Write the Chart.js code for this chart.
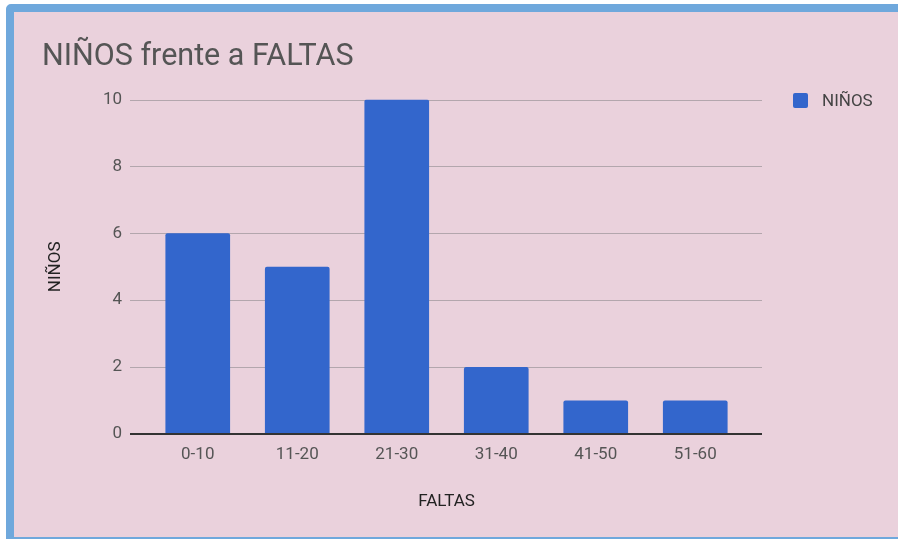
<!DOCTYPE html>
<html>
<head>
<meta charset="utf-8">
<script src="https://cdn.jsdelivr.net/npm/chart.js@4.4.0/dist/chart.umd.min.js"></script>
<style>
    html, body { margin: 0; padding: 0; background: #fff; overflow: hidden; }
    #frame {
        position: absolute; left: 6px; top: 4px;
        width: 900px; height: 525px;
        background: #ead1dc;
        border: 8px solid #6fa8dc;
        border-radius: 5px;
    }
    #wrap { position: absolute; left: 0; top: 0; width: 884px; height: 525px; }
    #legend { position: absolute; left: 779px; top: 78px; margin: 0; padding: 0; list-style: none; }
    #legend li { display: flex; align-items: center; height: 20px; font: 17px Roboto, sans-serif; color: #444; }
    #legend .box { width: 15px; height: 15px; border-radius: 2px; margin-right: 14px; }
</style>
</head>
<body>
<div id="frame">
    <div id="wrap"><canvas id="chart"></canvas></div>
    <ul id="legend"></ul>
</div>
<script>
// Data
const categories = ['0-10', '11-20', '21-30', '31-40', '41-50', '51-60'];
const ninos = [6, 5, 10, 2, 1, 1];
const yTicks = [0, 2, 4, 6, 8, 10];

const BAR = '#3366cc';
const TEXT = '#555555';
const AXIS_TEXT = '#222222';
const FONT = { family: 'Roboto', size: 17 };

// horizontal grid lines run a bit past the plot area, like the original
const gridPlugin = {
    id: 'wideGrid',
    beforeDatasetsDraw(chart) {
        const { ctx, chartArea, scales } = chart;
        ctx.save();
        yTicks.forEach(v => {
            const y = Math.round(scales.y.getPixelForValue(v)) + 0.5;
            ctx.beginPath();
            ctx.strokeStyle = '#b3a6ad';
            ctx.lineWidth = 1;
            ctx.moveTo(chartArea.left - 18, y);
            ctx.lineTo(chartArea.right + 17, y);
            ctx.stroke();
        });
        ctx.restore();
    },
    afterDatasetsDraw(chart) {
        const { ctx, chartArea, scales } = chart;
        const y = scales.y.getPixelForValue(0);
        ctx.save();
        ctx.beginPath();
        ctx.strokeStyle = '#333333';
        ctx.lineWidth = 2;
        ctx.moveTo(chartArea.left - 18, y);
        ctx.lineTo(chartArea.right + 17, y);
        ctx.stroke();
        ctx.restore();
    }
};

// legend built from the chart's own legend items
const htmlLegend = {
    id: 'htmlLegend',
    afterUpdate(chart) {
        const ul = document.getElementById('legend');
        ul.innerHTML = '';
        const items = chart.options.plugins.legend.labels.generateLabels(chart);
        items.forEach(item => {
            const li = document.createElement('li');
            const box = document.createElement('span');
            box.className = 'box';
            box.style.background = item.fillStyle;
            const txt = document.createElement('span');
            txt.textContent = item.text;
            li.appendChild(box);
            li.appendChild(txt);
            ul.appendChild(li);
        });
    }
};

new Chart(document.getElementById('chart'), {
    type: 'bar',
    data: {
        labels: categories,
        datasets: [{
            label: 'NIÑOS',
            data: ninos,
            backgroundColor: BAR,
            borderRadius: 2,
            borderSkipped: 'bottom',
            barPercentage: 0.65,
            categoryPercentage: 1
        }]
    },
    options: {
        responsive: true,
        maintainAspectRatio: false,
        animation: false,
        layout: { padding: { left: 28, right: 153, top: 16, bottom: 0 } },
        plugins: {
            title: {
                display: true,
                text: 'NIÑOS frente a FALTAS',
                align: 'start',
                color: TEXT,
                font: { family: 'Roboto', size: 30.5, weight: 'normal' },
                padding: { top: 11, bottom: 24 }
            },
            legend: { display: false },
            tooltip: { enabled: false }
        },
        scales: {
            x: {
                grid: { display: false, drawTicks: false },
                border: { display: false },
                ticks: { color: TEXT, font: FONT, padding: 11 },
                title: {
                    display: true, text: 'FALTAS', color: AXIS_TEXT,
                    font: FONT,
                    padding: { top: 0, bottom: 25 }
                },
                afterFit(scale) { scale.height = 103; }
            },
            y: {
                min: 0, max: 10,
                grid: { display: false, drawTicks: false },
                border: { display: false },
                ticks: { stepSize: 2, color: TEXT, padding: 26, font: FONT },
                title: {
                    display: true, text: 'NIÑOS', color: AXIS_TEXT,
                    font: FONT,
                    padding: { top: 4, bottom: 0 }
                },
                afterFit(scale) { scale.width = 106; }
            }
        }
    },
    plugins: [gridPlugin, htmlLegend]
});
</script>
</body>
</html>
